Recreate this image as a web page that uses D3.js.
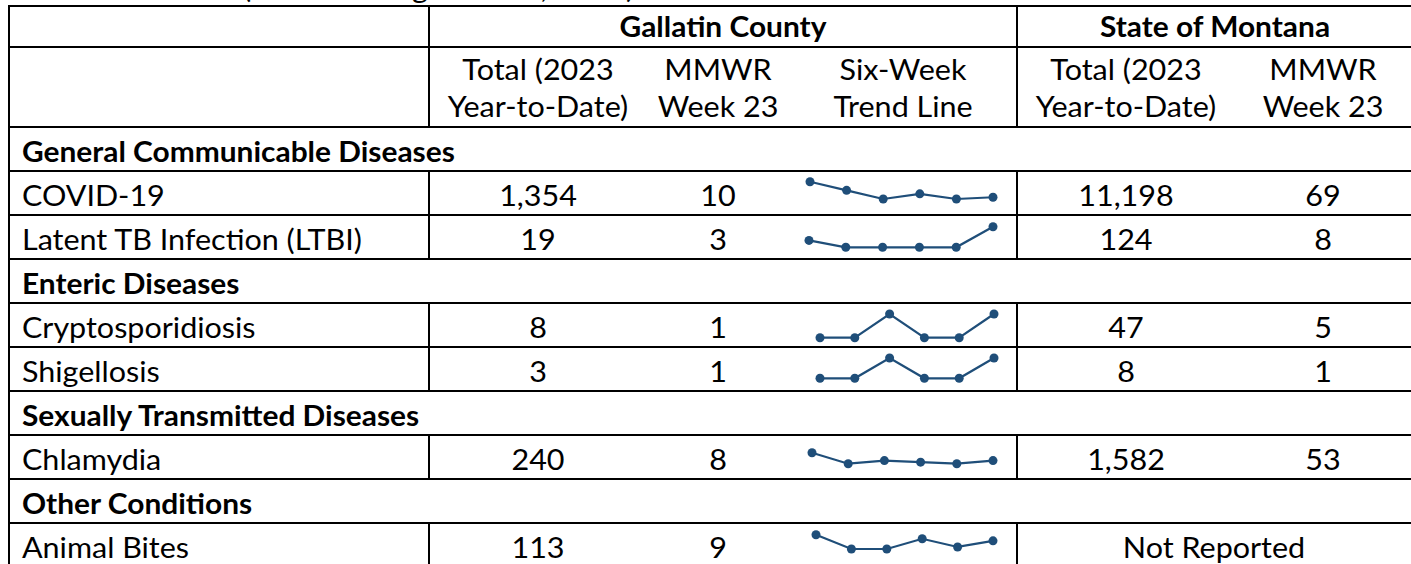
<!DOCTYPE html>
<html>
<head>
<meta charset="utf-8">
<script src="https://cdn.jsdelivr.net/npm/d3@7"></script>
<style>
  html, body { margin: 0; padding: 0; background: #fff; }
  svg { display: block; font-family: Lato, "Open Sans", sans-serif; }
</style>
</head>
<body>
<div id="table-container"></div>
<script>
// Table data
const groupNames = ["General Communicable Diseases", "Enteric Diseases", "Sexually Transmitted Diseases", "Other Conditions"];
const conditions = ["COVID-19", "Latent TB Infection (LTBI)", "Cryptosporidiosis", "Shigellosis", "Chlamydia", "Animal Bites"];
const conditionGroup = [0, 0, 1, 1, 2, 3];
const countyYTD = [1354, 19, 8, 3, 240, 113];
const countyWeek = [10, 3, 1, 1, 8, 9];
const stateYTD = [11198, 124, 47, 8, 1582, null];
const stateWeek = [69, 8, 5, 1, 53, null];
// six weekly counts for the trend line (weeks 18-23)
const trend = [
    [19, 14, 9, 12, 9, 10],
    [1, 0, 0, 0, 0, 3],
    [0, 0, 1, 0, 0, 1],
    [0, 0, 1, 0, 0, 1],
    [13, 6, 8, 7, 6, 8],
    [12, 5, 5, 10, 6, 9]
];
const countyHeaders = [["Total (2023", "Year-to-Date)"], ["MMWR", "Week 23"], ["Six-Week", "Trend Line"]];
const stateHeaders = [["Total (2023", "Year-to-Date)"], ["MMWR", "Week 23"]];

// Layout
const width = 1411, height = 564;
const cols = [9, 429, 647, 789, 1017, 1235, 1420];
const rowH = 44;
const fontSize = 29;
const sparkLayout = [
    {x0: 810, x1: 993, top: 10.7, bottom: 28},
    {x0: 809, x1: 993, top: 11.7, bottom: 32.3},
    {x0: 820, x1: 994, top: 11, bottom: 34.7},
    {x0: 820, x1: 994, top: 11, bottom: 31.3},
    {x0: 812, x1: 993, top: 17.7, bottom: 28.7},
    {x0: 816, x1: 993, top: 11.7, bottom: 26}
];
const sparkColor = "#1f4e79";
const fmt = d3.format(",");

// Build the row list: header rows, then group rows followed by their conditions
const rows = [{type: "head1", h: 41}, {type: "head2", h: 80}];
groupNames.forEach((g, gi) => {
    rows.push({type: "group", h: rowH, label: g});
    conditions.forEach((c, i) => {
        if (conditionGroup[i] === gi) rows.push({type: "data", h: rowH, i: i});
    });
});
let yAcc = 6;
rows.forEach(r => { r.y = yAcc; yAcc += r.h; });

const svg = d3.select("#table-container")
    .append("svg")
    .attr("width", width)
    .attr("height", height);

const colCenter = k => (cols[k] + cols[k + 1]) / 2;
const stateWeekCenter = (cols[5] + width) / 2;

// Calibrate the horizontal scale so the substitute font matches the original widths
function calibrate(sample, weight, target) {
    const t = svg.append("text")
        .attr("font-size", fontSize)
        .attr("font-weight", weight)
        .text(sample);
    const len = t.node().getComputedTextLength();
    t.remove();
    return target / len;
}
const kReg = calibrate("Latent TB Infection (LTBI)", 400, 340);
const kBold = calibrate("General Communicable Diseases", 700, 433);

function addText(x, y, str, opts = {}) {
    const bold = opts.bold || false;
    svg.append("text")
        .attr("transform", `translate(${x},${y}) scale(${bold ? kBold : kReg},1)`)
        .attr("font-size", fontSize)
        .attr("font-weight", bold ? 700 : 400)
        .attr("text-anchor", opts.anchor || "middle")
        .attr("fill", "#000")
        .text(str);
}

// Cut-off title above the table
addText(243, -2.5, "(Week Ending June 10, 2023)", {anchor: "start"});

const grid = svg.append("g")
    .attr("stroke", "#000")
    .attr("stroke-width", 2);

// Horizontal rules
rows.forEach(r => {
    grid.append("line")
        .attr("x1", cols[0] - 1).attr("x2", width)
        .attr("y1", r.y).attr("y2", r.y);
});
grid.append("line")
    .attr("x1", cols[0] - 1).attr("x2", width)
    .attr("y1", yAcc).attr("y2", yAcc);

// Vertical rules (group rows span the full width)
rows.forEach(r => {
    const xs = r.type === "group" ? [cols[0]] : [cols[0], cols[1], cols[4]];
    xs.forEach(x => {
        grid.append("line")
            .attr("x1", x).attr("x2", x)
            .attr("y1", r.y).attr("y2", r.y + r.h);
    });
});

// Header texts
const h1 = rows[0], h2 = rows[1];
addText((cols[1] + cols[4]) / 2, h1.y + 31, "Gallatin County", {bold: true});
addText((cols[4] + width) / 2 + 1, h1.y + 31, "State of Montana", {bold: true});
countyHeaders.forEach((lines, k) => {
    addText(colCenter(k + 1), h2.y + 33, lines[0]);
    addText(colCenter(k + 1), h2.y + 70, lines[1]);
});
stateHeaders.forEach((lines, k) => {
    const cx = k === 0 ? colCenter(4) : stateWeekCenter;
    addText(cx, h2.y + 33, lines[0]);
    addText(cx, h2.y + 70, lines[1]);
});

// Body
const line = d3.line();
rows.filter(r => r.type === "group" || r.type === "data").forEach(r => {
    const base = r.y + 35;
    if (r.type === "group") {
        addText(22, base, r.label, {bold: true, anchor: "start"});
        return;
    }
    const i = r.i;
    addText(22, base, conditions[i], {anchor: "start"});
    addText(colCenter(1), base, fmt(countyYTD[i]));
    addText(colCenter(2), base, fmt(countyWeek[i]));
    if (stateYTD[i] === null) {
        addText((cols[4] + width) / 2, base, "Not Reported");
    } else {
        addText(colCenter(4), base, fmt(stateYTD[i]));
        addText(stateWeekCenter, base, fmt(stateWeek[i]));
    }

    // Six-week sparkline
    const lay = sparkLayout[i];
    const xs = d3.scaleLinear().domain([0, trend[i].length - 1]).range([lay.x0, lay.x1]);
    const ys = d3.scaleLinear().domain(d3.extent(trend[i])).range([r.y + lay.bottom, r.y + lay.top]);
    const pts = trend[i].map((v, j) => [xs(j), ys(v)]);
    const g = svg.append("g");
    g.append("path")
        .attr("d", line(pts))
        .attr("fill", "none")
        .attr("stroke", sparkColor)
        .attr("stroke-width", 2.2);
    g.selectAll("circle")
        .data(pts)
        .enter()
        .append("circle")
        .attr("cx", d => d[0])
        .attr("cy", d => d[1])
        .attr("r", 4.5)
        .attr("fill", sparkColor);
});
</script>
</body>
</html>
